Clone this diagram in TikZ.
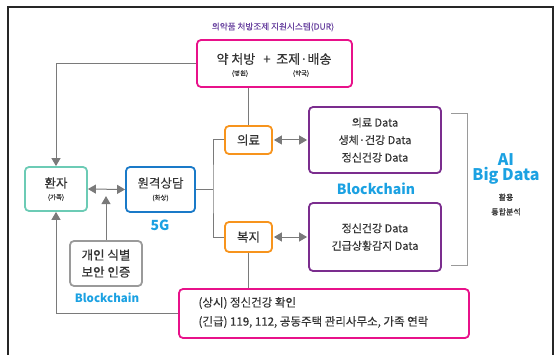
\documentclass[tikz,border=0pt]{standalone}
\usepackage{fontspec}
\setmainfont{Noto Sans CJK KR}[UprightFeatures={FakeBold=0.35}]
\usetikzlibrary{arrows.meta,calc}
\definecolor{mag}{HTML}{E8118A}
\definecolor{tealc}{HTML}{6CCBB5}
\definecolor{bluec}{HTML}{1A7AC8}
\definecolor{orangec}{HTML}{F7941D}
\definecolor{purplec}{HTML}{7B2D8E}
\definecolor{greyc}{HTML}{9A9A9A}
\definecolor{cyanc}{HTML}{1BA1E2}
\definecolor{durc}{HTML}{6A44A0}
\definecolor{txt}{HTML}{333333}
\definecolor{linec}{HTML}{7A7A7A}
\tikzset{
  box/.style={draw, line width=1.8pt, rounded corners=4pt, align=center, text=txt, inner sep=0pt},
  conn/.style={draw=linec, line width=1pt},
  tip/.style={-{Triangle[length=8pt,width=9pt]}},
  dtip/.style={{Triangle[length=8pt,width=9pt]}-{Triangle[length=8pt,width=9pt]}},
  f12/.style={font=\fontsize{12.5}{14}\selectfont},
  small/.style={font=\fontsize{6.5}{7}\selectfont},
  bluelbl/.style={text=cyanc, font=\fontsize{14}{16}\bfseries\selectfont},
}
\begin{document}
\begin{tikzpicture}[x=1pt,y=-1pt]
\useasboundingbox (0,0) rectangle (556,355);
% outer frame
\draw[line width=1.5pt, draw=black!85] (8,356) -- (8,7) -- (553,7) -- (553,356);

% DUR
\node[text=durc, font=\fontsize{8.6}{10}\selectfont] (durlbl) at (273,27) {의약품 처방조제 지원시스템(DUR)};
\node[box, draw=mag, minimum width=155pt, minimum height=47pt] (dur) at (274.5,63.5) {};
\node[text=txt, font=\fontsize{13}{15}\selectfont] (durtxt) at (274,59) {약 처방 \ \,+\ \ 조제·배송};
\node[text=txt, small] (hosp) at (240,73.5) {(병원)};
\node[text=txt, small] (pharm) at (301,73.5) {(약국)};

% patient
\node[box, draw=tealc, minimum width=62pt, minimum height=44pt] (patient) at (56,189) {};
\node[text=txt, f12] (pt1) at (56,183) {환자};
\node[text=txt, small] (pt2) at (56,197.5) {(가족)};

% consult
\node[box, draw=bluec, minimum width=69pt, minimum height=45pt] (consult) at (160.5,189.5) {};
\node[text=txt, f12] (cs1) at (160.5,183) {원격상담};
\node[text=txt, small] (cs2) at (160.5,198) {(화상)};
\node[bluelbl] (g5) at (160,225) {5G};

% auth
\node[box, draw=greyc, minimum width=72pt, minimum height=45pt, font=\fontsize{12.5}{17}\selectfont] (auth) at (106,263.5) {개인 식별\\보안 인증};
\node[text=cyanc, font=\fontsize{11.5}{13}\bfseries\selectfont] (bc1) at (107,298) {Blockchain};

% med / welfare
\node[box, draw=orangec, minimum width=47pt, minimum height=28pt, f12] (med) at (248.5,140) {의료};
\node[box, draw=orangec, minimum width=47pt, minimum height=30pt, f12] (welfare) at (248.5,237) {복지};

% data boxes
\node[box, draw=purplec, minimum width=132pt, minimum height=66pt, font=\fontsize{11}{17.5}\selectfont] (data1) at (375,140) {의료 Data\\생체·건강 Data\\정신건강 Data};
\node[bluelbl] (bc2) at (376,189) {Blockchain};
\node[box, draw=purplec, minimum width=132pt, minimum height=68pt, font=\fontsize{11}{17.5}\selectfont] (data2) at (375,237) {정신건강 Data\\긴급상황감지 Data};

% bottom box
\node[box, draw=mag, minimum width=290pt, minimum height=49pt] (bottom) at (324,313.5) {};
\node[text=txt, anchor=west, align=left, font=\fontsize{11.5}{19}\selectfont] (bottomtxt) at (195,312.5) {(상시) 정신건강 확인\\(긴급) 119, 112, 공동주택 관리사무소, 가족 연락};

% AI big data
\node[text=cyanc, font=\fontsize{16}{16}\bfseries\selectfont, align=center] (ai) at (506,169) {AI\\[-1pt]Big Data};
\node[text=txt, font=\fontsize{8}{14.5}\selectfont, align=center] (use) at (506,204.5) {활용\\통합분석};
\coordinate (bra) at (451,114);
\coordinate (brb) at (451,265);
\draw[conn, draw=greyc] (bra) -- ++(16,0) |- (brb);

% connectors
\draw[conn, tip] (dur.west) -| (patient.north);
\draw[conn, tip] (bottom.west) -| (patient.south);
\draw[conn, dtip] (patient.east) -- (consult.west);
\coordinate (authtop) at ($(auth.north)+(0,-44)$);
\draw[conn, tip] (auth.north) -- (authtop);
\coordinate (split) at (213,189.5);
\draw[conn] (consult.east) -- (split);
\draw[conn] (med.west) -| (split) |- (welfare.west);
\draw[conn] (dur.south -| med.north) -- (med.north);
\draw[conn, dtip, shorten <=1pt, shorten >=1pt] (med.east) -- (data1.west);
\draw[conn, dtip, shorten <=1pt, shorten >=1pt] (welfare.east) -- (data2.west);
\draw[conn] (welfare.south) -- (welfare.south |- bottom.north);
\end{tikzpicture}
\end{document}
